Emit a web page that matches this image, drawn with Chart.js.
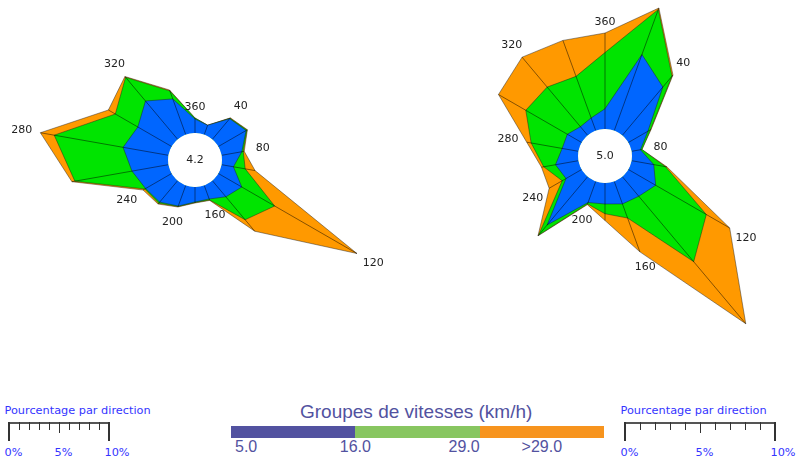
<!DOCTYPE html>
<html lang="fr">
<head>
<meta charset="utf-8">
<title>Roses des vents</title>
<script src="https://cdn.jsdelivr.net/npm/chart.js"></script>
<style>
    html, body { margin: 0; padding: 0; background: #ffffff; }
    body { position: relative; width: 807px; height: 459px; overflow: hidden; }
    canvas { position: absolute; }
    #roseLeft { left: 0; top: 0; }
    #roseRight { left: 405px; top: -40px; }
    .txt { position: absolute; white-space: nowrap; }
    .pct { font-family: "DejaVu Sans", sans-serif; font-size: 11.3px; line-height: 13px; color: #3434ff; }
    .grp { font-family: "Liberation Sans", Arial, sans-serif; color: #5252a0; }
    #groupTitle { font-size: 19px; line-height: 19px; top: 402px; left: 300px; width: 232px; text-align: center; }
    #groupBar { position: absolute; left: 231px; top: 426px; width: 373px; height: 12px; display: flex; }
    #groupBar div { flex: 1; }
    .grpLabel { font-size: 16px; line-height: 16px; top: 439px; }
</style>
</head>
<body>
<canvas id="roseLeft" width="400" height="400"></canvas>
<canvas id="roseRight" width="402" height="400"></canvas>

<div class="txt grp" id="groupTitle">Groupes de vitesses (km/h)</div>
<div id="groupBar"></div>

<script>
// directions in degrees, clockwise from north
const directions = [`360`, `20`, `40`, `60`, `80`, `100`, `120`, `140`, `160`,
    `180`, `200`, `220`, `240`, `260`, `280`, `300`, `320`, `340`];
const labelledDirections = [`360`, `40`, `80`, `120`, `160`, `200`, `240`, `280`, `320`];

// left rose: percentage of time per direction and speed group
const leftSlow = [1.4, 1.0, 2.7, 3.2, 2.05, 1.2, 2.7, 2.1, 1.45, 1.5, 2.2, 2.8, 3.0, 3.7, 4.6, 3.9, 5.0, 3.8];
const leftMedium = [0.1, 0.0, 0.05, 0.1, 0.15, 1.2, 3.8, 3.0, 0.1, 0.05, 0.05, 0.15, 0.1, 5.8, 7.0, 2.6, 3.1, 0.85];
const leftFast = [0.0, 0.0, 0.05, 0.05, 0.1, 1.0, 9.5, 1.5, 0.05, 0.05, 0.05, 0.1, 0.2, 0.3, 1.4, 0.8, 0.1, 0.1];
const leftCalm = 4.2;

// right rose
const rightSlow = [1.35, 5.4, 4.2, 1.5, 0.6, 1.5, 2.1, 1.7, 1.6, 1.4, 1.5, 4.2, 1.2, 1.55, 1.1, 1.1, 0.75, 0.9];
const rightMedium = [3.75, 3.2, 0.95, 0.2, 0.1, 0.8, 3.9, 5.7, 1.0, 0.65, 0.1, 0.9, 0.3, 0.8, 2.1, 3.2, 3.45, 2.95];
const rightFast = [1.3, 0.1, 0.1, 0.05, 0.0, 0.1, 1.8, 5.4, 2.4, 0.45, 0.05, 0.05, 1.0, 0.15, 0.3, 2.1, 2.6, 2.55];
const rightCalm = 5.0;

const speedGroups = [`5.0`, `16.0`, `29.0`, `>29.0`];
const percentTicks = [0, 5, 10];

const HOLE_RADIUS = 27;
const roseColors = [`#0066ff`, `#00e400`, `#ff9900`];
const groupColors = [`#5252a0`, `#88c660`, `#f7941e`];


const makeDecor = function (total, calm) {
    // rays, calm hole, direction labels and calm value
    return {
        id: `roseDecor`,
        afterDatasetsDraw(chart) {
            const scale = chart.scales.r;
            const ctx = chart.ctx;
            ctx.save();
            ctx.strokeStyle = `rgba(0, 0, 0, 0.8)`;
            ctx.lineWidth = 0.6;
            total.forEach((value, i) => {
                const a = scale.getPointPositionForValue(i, 0);
                const b = scale.getPointPositionForValue(i, value);
                ctx.beginPath();
                ctx.moveTo(a.x, a.y);
                ctx.lineTo(b.x, b.y);
                ctx.stroke();
            });

            ctx.fillStyle = `#ffffff`;
            ctx.beginPath();
            ctx.arc(scale.xCenter, scale.yCenter, scale.getDistanceFromCenterForValue(0), 0, Math.PI * 2);
            ctx.fill();

            ctx.font = `11px "DejaVu Sans"`;
            ctx.fillStyle = `#222222`;
            ctx.textAlign = `center`;
            ctx.textBaseline = `middle`;
            ctx.fillText(calm.toFixed(1), scale.xCenter, scale.yCenter + 0.5);

            directions.forEach((dir, i) => {
                if (!labelledDirections.includes(dir)) {
                    return;
                }
                // label just beyond the outer vertex of its direction
                const p = scale.getPointPositionForValue(i, total[i]);
                const ux = Math.cos(p.angle);
                const uy = Math.sin(p.angle);
                const gap = 11 + 8 * Math.abs(ux) + 2 * Math.max(0, uy);
                ctx.fillText(dir, p.x + ux * gap, p.y + uy * gap + 0.5);
            });
            ctx.restore();
        },
    };
};

const drawRose = function (canvasId, slow, medium, fast, calm, pxPerPercent, padding) {
    const canvas = document.getElementById(canvasId);
    const radius = Math.min(canvas.width - padding.right, canvas.height - padding.bottom) / 2;
    const min = -HOLE_RADIUS / pxPerPercent;
    const max = min + radius / pxPerPercent;

    // stacked speed groups
    const upToMedium = slow.map((v, i) => v + medium[i]);
    const total = upToMedium.map((v, i) => v + fast[i]);
    const layers = [slow, upToMedium, total];

    return new Chart(canvas, {
        type: `radar`,
        data: {
            labels: directions,
            datasets: layers.map((values, k) => {
                return {
                    data: values,
                    backgroundColor: roseColors[k],
                    borderColor: `rgba(30, 30, 30, 0.75)`,
                    borderWidth: 0.6,
                    fill: `origin`,
                    pointRadius: 0,
                    clip: false,
                };
            }),
        },
        options: {
            responsive: false,
            animation: false,
            events: [],
            layout: { padding: { left: 0, top: 0, right: padding.right, bottom: padding.bottom } },
            elements: { line: { tension: 0 } },
            plugins: {
                legend: { display: false },
                tooltip: { enabled: false },
            },
            scales: {
                r: {
                    min,
                    max,
                    grid: { display: false },
                    angleLines: { display: false },
                    ticks: { display: false },
                    pointLabels: { display: false },
                },
            },
        },
        plugins: [makeDecor(total, calm)],
    });
};

const makePercentLegend = function (chart, x0) {
    // x0: page x of the 0% tick, one tick per percent from the rose scale
    const scale = chart.scales.r;
    const step = scale.getDistanceFromCenterForValue(1) - scale.getDistanceFromCenterForValue(0);
    const svgNS = `http://www.w3.org/2000/svg`;
    const svg = document.createElementNS(svgNS, `svg`);
    svg.setAttribute(`width`, String(step * 10 + 4));
    svg.setAttribute(`height`, `22`);
    svg.style.cssText = `position:absolute;left:${x0 - 2}px;top:421px;`;
    const line = function (x1, y1, x2, y2, width, color) {
        const el = document.createElementNS(svgNS, `line`);
        el.setAttribute(`x1`, x1);
        el.setAttribute(`y1`, y1);
        el.setAttribute(`x2`, x2);
        el.setAttribute(`y2`, y2);
        el.setAttribute(`stroke`, color);
        el.setAttribute(`stroke-width`, width);
        svg.appendChild(el);
    };
    line(2, 2, 2 + step * 10, 2, 2, `#555555`);
    for (let k = 0; k <= 10; k += 1) {
        const x = 2 + k * step + (k % 10 === 0 ? 0 : 0.5);
        const len = k % 10 === 0 ? 20 : (k === 5 ? 12 : 9);
        line(x, 1, x, len, k % 10 === 0 ? 2 : 1, `#333333`);
    }
    document.body.appendChild(svg);

    const title = document.createElement(`div`);
    title.className = `txt pct`;
    title.style.left = `${x0 - 4.5}px`;
    title.style.top = `403.5px`;
    title.textContent = `Pourcentage par direction`;
    document.body.appendChild(title);

    percentTicks.forEach(t => {
        const lab = document.createElement(`div`);
        lab.className = `txt pct`;
        lab.style.left = `${x0 + t * step - 4.5}px`;
        lab.style.top = `446px`;
        lab.textContent = `${t}%`;
        document.body.appendChild(lab);
    });
};

const makeGroupLegend = function () {
    const bar = document.getElementById(`groupBar`);
    groupColors.forEach(color => {
        const seg = document.createElement(`div`);
        seg.style.background = color;
        bar.appendChild(seg);
    });
    // label anchors along the bar: start, two boundaries, middle of the last group
    const barLeft = 231;
    const segW = 373 / 3;
    const anchors = [
        { x: barLeft + 4, align: `left` },
        { x: barLeft + segW, align: `center` },
        { x: barLeft + 2 * segW, align: `right` },
        { x: barLeft + 2.5 * segW, align: `center` },
    ];
    speedGroups.forEach((text, i) => {
        const lab = document.createElement(`div`);
        lab.className = `txt grp grpLabel`;
        lab.textContent = text;
        const a = anchors[i];
        if (a.align === `left`) {
            lab.style.left = `${a.x}px`;
        } else if (a.align === `right`) {
            lab.style.right = `${807 - a.x}px`;
        } else {
            lab.style.left = `${a.x}px`;
            lab.style.transform = `translateX(-50%)`;
        }
        document.body.appendChild(lab);
    });
};


const leftChart = drawRose(`roseLeft`, leftSlow, leftMedium, leftFast, leftCalm, 10, { right: 10, bottom: 80 });
const rightChart = drawRose(`roseRight`, rightSlow, rightMedium, rightFast, rightCalm, 15, { right: 2, bottom: 8 });

makePercentLegend(leftChart, 9);
makePercentLegend(rightChart, 625);
makeGroupLegend();
</script>
</body>
</html>
